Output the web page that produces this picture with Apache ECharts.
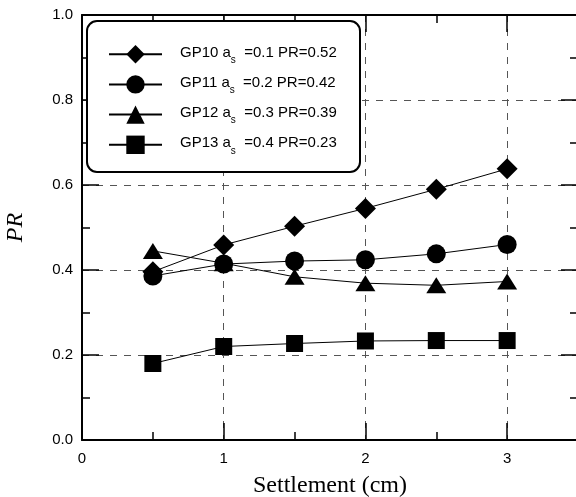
<!DOCTYPE html>
<html lang="en">
<head>
  <meta charset="UTF-8">
  <title>PR vs Settlement</title>
  <script src="https://cdn.jsdelivr.net/npm/echarts@6/dist/echarts.min.js"></script>
  <style>
    html, body { margin: 0; padding: 0; background: #fff; }
    #main { width: 576px; height: 497px; }
  </style>
</head>
<body>
  <div id="main"></div>
  <script>
    // settlement (cm)
    var settlement = [0.5, 1, 1.5, 2, 2.5, 3]
    // PR values
    var gp10 = [0.396, 0.459, 0.503, 0.545, 0.590, 0.638]
    var gp11 = [0.386, 0.414, 0.421, 0.424, 0.438, 0.460]
    var gp12 = [0.445, 0.416, 0.384, 0.369, 0.364, 0.373]
    var gp13 = [0.180, 0.220, 0.227, 0.233, 0.234, 0.234]
    var names = ['GP10', 'GP11', 'GP12', 'GP13']
    var asVals = ['0.1', '0.2', '0.3', '0.4']
    var prVals = ['0.52', '0.42', '0.39', '0.23']

    function pairs(ys) {
      return settlement.map(function (x, i) { return [x, ys[i]] })
    }

    var sans = 'Liberation Sans, Arial, sans-serif'
    var serif = 'Liberation Serif, Times New Roman, serif'
    var gridDash = { show: true, lineStyle: { color: '#555', width: 1, type: [7, 7] } }

    function xAx(pos, interval, tickLen, main) {
      return {
        type: 'value', position: pos, min: 0, max: 3.5, interval: interval,
        axisLine: { show: !!main, onZero: false, lineStyle: { color: '#000', width: 2 } },
        axisTick: { show: true, inside: true, length: tickLen, lineStyle: { color: '#000', width: 1.5 } },
        axisLabel: { show: main && pos === 'bottom', showMaxLabel: false, color: '#000', fontFamily: sans, fontSize: 15, margin: 11 },
        splitLine: main && pos === 'bottom' ? gridDash : { show: false }
      }
    }

    function yAx(pos) {
      var left = pos === 'left'
      return {
        type: 'value', position: pos, min: 0, max: 1, interval: 0.2,
        axisLine: { show: true, onZero: false, lineStyle: { color: '#000', width: 2 } },
        axisTick: { show: true, inside: true, length: 17, lineStyle: { color: '#000', width: 1.5 } },
        minorTick: { show: true, splitNumber: 2, length: 8, lineStyle: { color: '#000', width: 1.5 } },
        axisLabel: { show: left, color: '#000', fontFamily: sans, fontSize: 15, margin: 9,
          formatter: function (v) { return v.toFixed(1) } },
        splitLine: left ? gridDash : { show: false },
        name: left ? 'PR' : '',
        nameLocation: 'middle', nameGap: 54,
        nameTextStyle: { fontFamily: serif, fontStyle: 'italic', fontSize: 24, color: '#000' }
      }
    }

    var symbols = ['diamond', 'circle', 'triangle', 'rect']
    var sizes = [21, 19, [20, 16], 17]
    var zs = [3, 5, 4, 3]
    var data = [gp10, gp11, gp12, gp13]

    var series = names.map(function (n, i) {
      return {
        name: n, type: 'line', xAxisIndex: 0, yAxisIndex: 0,
        data: pairs(data[i]), symbol: symbols[i], symbolSize: sizes[i],
        z: zs[i], showAllSymbol: true,
        lineStyle: { color: '#000', width: 1 },
        itemStyle: { color: '#000' }
      }
    })

    var xBottom = xAx('bottom', 1, 17, true)
    xBottom.name = 'Settlement (cm)'
    xBottom.nameLocation = 'middle'
    xBottom.nameGap = 34
    xBottom.nameTextStyle = { fontFamily: serif, fontSize: 24, color: '#000' }

    var chart = echarts.init(document.getElementById('main'))
    chart.setOption({
      animation: false,
      backgroundColor: '#fff',
      grid: { left: 82, top: 15, width: 496, height: 425, containLabel: false, outerBoundsMode: 'none' },
      xAxis: [xBottom, xAx('bottom', 0.5, 8, false), xAx('top', 1, 17, true), xAx('top', 0.5, 8, false)],
      yAxis: [yAx('left'), yAx('right')],
      graphic: [{
        type: 'rect', z: 10,
        shape: { x: 87, y: 21, width: 273, height: 151, r: 10 },
        style: { fill: '#fff', stroke: '#000', lineWidth: 2 }
      }],
      legend: {
        z: 20, orient: 'vertical', left: 108, top: 45, padding: 0,
        itemWidth: 53, itemHeight: 23, itemGap: 10,
        data: names,
        formatter: function (n) {
          var i = names.indexOf(n)
          return '{t|' + n + ' a}{s|s}{t|  =' + asVals[i] + ' PR=' + prVals[i] + '}'
        },
        textStyle: {
          color: '#000', fontFamily: sans, fontSize: 15,
          padding: [0, 0, 0, 13],
          rich: {
            t: { fontFamily: sans, fontSize: 15, lineHeight: 18, verticalAlign: 'top', color: '#000' },
            s: { fontFamily: sans, fontSize: 10, lineHeight: 10, verticalAlign: 'top', padding: [10, 0, 0, 0], color: '#000' }
          }
        }
      },
      series: series
    })
  </script>
</body>
</html>
